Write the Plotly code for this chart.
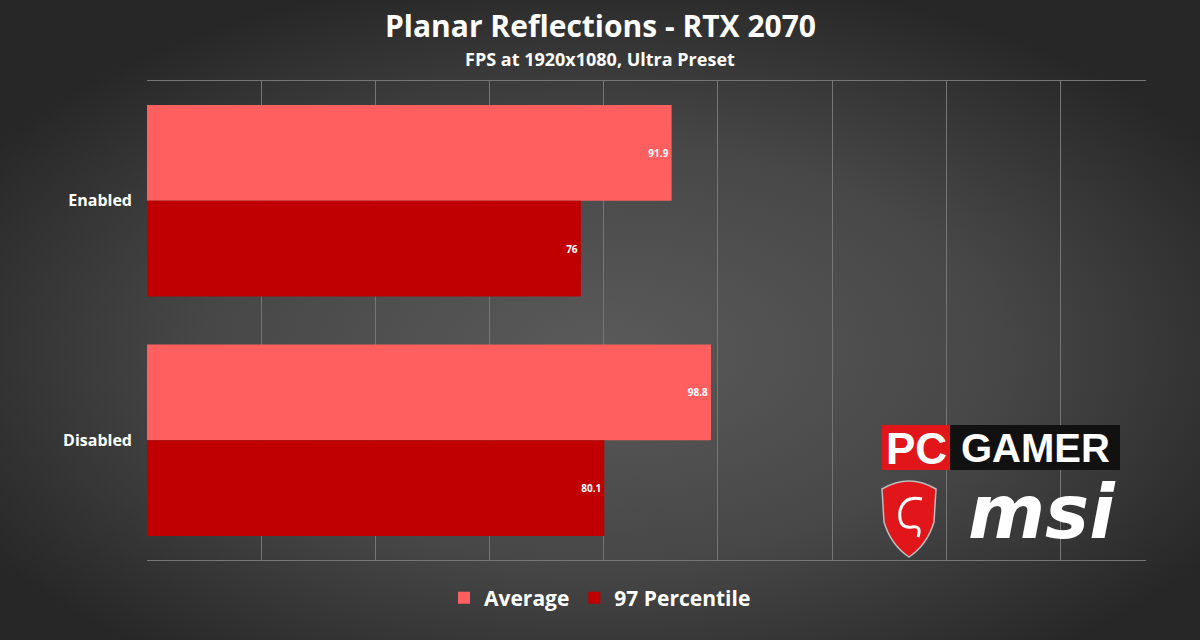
import base64
import plotly.graph_objects as go

categories = ["Enabled", "Disabled"]
average = [91.9, 98.8]
percentile97 = [76, 80.1]
series_names = ["Average", "97 Percentile"]
title_text = "Planar Reflections - RTX 2070"
subtitle_text = "FPS at 1920x1080, Ultra Preset"

FONT = "Open Sans"
W, H = 1200, 640
L, R, T, B = 147, 54, 81, 80

svg = f'''<svg xmlns="http://www.w3.org/2000/svg" width="{W}" height="{H}" viewBox="0 0 {W} {H}" preserveAspectRatio="none">
<defs><radialGradient id="g" cx="50%" cy="55%" r="60%" gradientUnits="objectBoundingBox">
<stop offset="0%" stop-color="#5a5a5a"/><stop offset="55%" stop-color="#474747"/><stop offset="100%" stop-color="#272727"/>
</radialGradient></defs>
<rect width="{W}" height="{H}" fill="url(#g)"/></svg>'''
bg_uri = "data:image/svg+xml;base64," + base64.b64encode(svg.encode()).decode()

pw = W - L - R
ph = H - T - B


def px(x):
    return (x - L) / pw


def py(y):
    return (H - B - y) / ph


fig = go.Figure()
fig.add_trace(go.Bar(
    y=categories, x=average, name=f"<b>{series_names[0]}</b>", orientation="h",
    marker=dict(color="#FF5F5F", line=dict(width=0)),
    text=[f"<b>{v}</b>" for v in average], textposition="inside", insidetextanchor="end",
    textfont=dict(color="white", size=10, family=FONT),
))
fig.add_trace(go.Bar(
    y=categories, x=percentile97, name=f"<b>{series_names[1]}</b>", orientation="h",
    marker=dict(color="#C00000", line=dict(width=0)),
    text=[f"<b>{v}</b>" for v in percentile97], textposition="inside", insidetextanchor="end",
    textfont=dict(color="white", size=10, family=FONT),
))

shapes = []
cx = 0.5 * W / pw - L / pw
annotations = [
    dict(text=f"<b>{title_text}</b>", x=cx, xref="paper", xanchor="center",
         y=py(25), yref="paper", yanchor="middle", showarrow=False,
         font=dict(size=30, color="white", family=FONT)),
    dict(text=f"<b>{subtitle_text}</b>", x=cx, xref="paper", xanchor="center",
         y=py(59), yref="paper", yanchor="middle", showarrow=False,
         font=dict(size=18, color="white", family=FONT)),
]

# PC GAMER logo
shapes.append(dict(type="rect", xref="paper", yref="paper", x0=px(882), x1=px(950),
                   y0=py(470), y1=py(425), fillcolor="#E0161B", line=dict(width=0), layer="above"))
shapes.append(dict(type="rect", xref="paper", yref="paper", x0=px(950), x1=px(1120),
                   y0=py(470), y1=py(425), fillcolor="#111111", line=dict(width=0), layer="above"))
annotations.append(dict(text="<b>PC</b>", xref="paper", yref="paper", x=px(916), y=py(448),
                        xanchor="center", yanchor="middle", showarrow=False,
                        font=dict(size=44, color="white", family="Liberation Sans")))
annotations.append(dict(text="<b>GAMER</b>", xref="paper", yref="paper", x=px(1035), y=py(448),
                        xanchor="center", yanchor="middle", showarrow=False,
                        font=dict(size=40, color="white", family="Liberation Sans")))
# MSI shield
x0s, y0s = 882, 477
shield = (f"M {px(x0s)},{py(y0s+12)} Q {px(x0s+27)},{py(y0s-4)} {px(x0s+54)},{py(y0s+12)} "
          f"L {px(x0s+52)},{py(y0s+45)} Q {px(x0s+45)},{py(y0s+68)} {px(x0s+27)},{py(y0s+80)} "
          f"Q {px(x0s+9)},{py(y0s+68)} {px(x0s+2)},{py(y0s+45)} Z")
shapes.append(dict(type="path", xref="paper", yref="paper", path=shield,
                   fillcolor="#E0161B", line=dict(color="#bdbdbd", width=1.5), layer="above"))
dragon = (f"M {px(x0s+40)},{py(y0s+22)} Q {px(x0s+22)},{py(y0s+18)} {px(x0s+18)},{py(y0s+34)} "
          f"Q {px(x0s+16)},{py(y0s+52)} {px(x0s+30)},{py(y0s+50)} "
          f"Q {px(x0s+40)},{py(y0s+48)} {px(x0s+36)},{py(y0s+60)}")
shapes.append(dict(type="path", xref="paper", yref="paper", path=dragon,
                   line=dict(color="white", width=3), layer="above"))
annotations.append(dict(text="<b><i>msi</i></b>", xref="paper", yref="paper", x=px(1042), y=py(512),
                        xanchor="center", yanchor="middle", showarrow=False,
                        font=dict(size=74, color="white", family="DejaVu Sans")))

fig.update_layout(
    width=W, height=H,
    margin=dict(l=L, r=R, t=T, b=B, autoexpand=False),
    paper_bgcolor="#3a3a3a", plot_bgcolor="rgba(0,0,0,0)",
    barmode="group", bargap=0.2, bargroupgap=0,
    showlegend=True,
    legend=dict(orientation="h", x=cx, xref="paper", xanchor="center",
                y=py(598), yanchor="middle",
                font=dict(size=21, color="white", family=FONT),
                traceorder="normal", bgcolor="rgba(0,0,0,0)"),
    xaxis=dict(range=[0, 175], dtick=20, showgrid=True, gridcolor="#767676", gridwidth=1,
               showticklabels=False, zeroline=False, showline=True, linecolor="#767676",
               linewidth=1, mirror=True, ticks=""),
    yaxis=dict(autorange="reversed", showgrid=False, showline=False, zeroline=False,
               tickfont=dict(size=16, color="white", family=FONT), ticks="",
               ticklabelstandoff=14),
    shapes=shapes,
    annotations=annotations,
    images=[dict(source=bg_uri, xref="paper", yref="paper",
                 x=-L / pw, y=1 + T / ph, sizex=W / pw, sizey=H / ph,
                 sizing="stretch", layer="below", xanchor="left", yanchor="top")],
    uniformtext=dict(minsize=8, mode="show"),
)
fig.update_yaxes(tickprefix="<b>", ticksuffix="</b>")

fig.write_html("out.html", config={"displayModeBar": False},
               post_script="document.body.style.margin='0';document.body.style.overflow='hidden';")
